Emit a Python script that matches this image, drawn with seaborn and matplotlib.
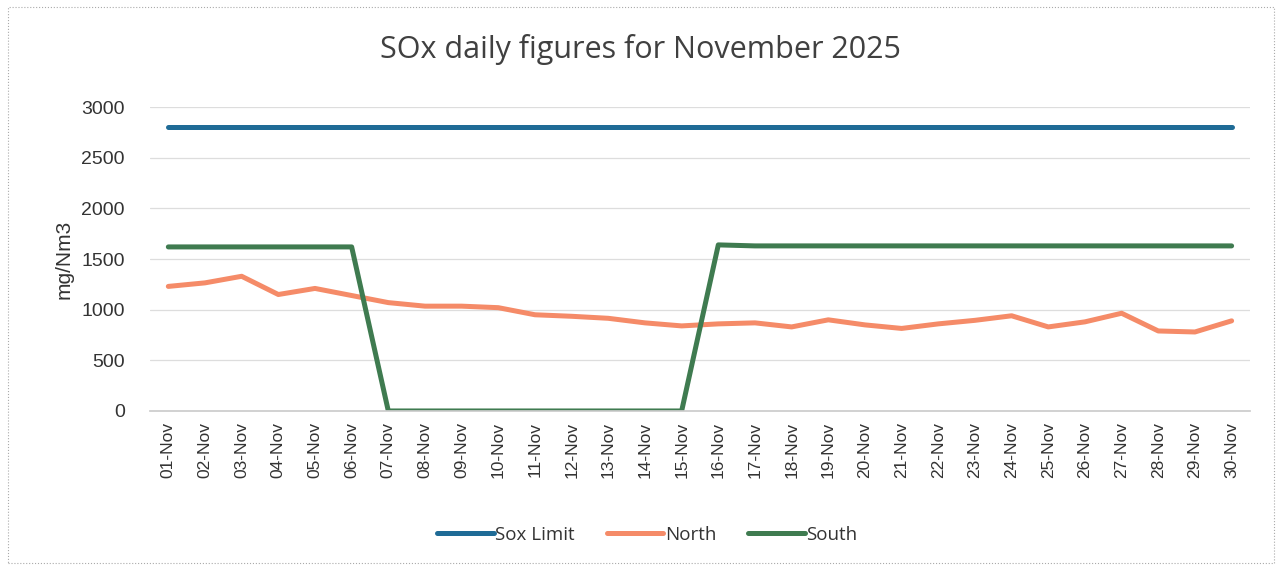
import pandas as pd
import numpy as np
import seaborn as sns
import matplotlib.pyplot as plt
from matplotlib.patches import Rectangle

# Data
days = ['%02d-Nov' % d for d in range(1, 31)]
sox_limit = [2800] * 30
north = [1230, 1265, 1330, 1150, 1210, 1140, 1070, 1035, 1035, 1020,
         950, 935, 915, 870, 840, 860, 870, 830, 900, 850,
         815, 860, 895, 940, 830, 880, 965, 790, 780, 890]
south = [1620, 1620, 1620, 1620, 1620, 1620, 0, 0, 0, 0,
         0, 0, 0, 0, 0, 1640, 1630, 1630, 1630, 1630,
         1630, 1630, 1630, 1630, 1630, 1630, 1630, 1630, 1630, 1630]

series_names = ['Sox Limit', 'North', 'South']
colors = ['#1f6b96', '#f58b68', '#3f7b50']

df = pd.DataFrame({'day': days * 3,
                   'pos': list(range(30)) * 3,
                   'value': sox_limit + north + south,
                   'series': np.repeat(series_names, 30)})

sns.set_theme(style='white')
plt.rcParams['font.family'] = ['Liberation Sans', 'DejaVu Sans']

fig = plt.figure(figsize=(12.82, 5.70), dpi=100)
ax = fig.add_axes([0.117, 0.279, 0.858, 0.533])

sns.lineplot(data=df, x='pos', y='value', hue='series', palette=colors,
             hue_order=series_names, linewidth=3.6, ax=ax,
             solid_capstyle='round', solid_joinstyle='round', legend=False)

ax.set_xlim(-0.5, 29.5)
ax.set_ylim(0, 3000)
ax.set_yticks(range(0, 3001, 500))
ax.set_yticklabels([str(v) for v in range(0, 3001, 500)], fontsize=14, color='#333333')
ax.set_xticks(range(30))
ax.set_xticklabels(days, rotation=90, fontsize=12.5, color='#333333')
ax.set_xticks(np.arange(-0.5, 30, 1), minor=True)
ax.tick_params(axis='x', which='major', length=0, pad=8)
ax.tick_params(axis='x', which='minor', length=5, color='#bbbbbb', width=0.8, direction='out')
ax.tick_params(axis='y', length=0, pad=18)
ax.grid(axis='y', color='#dddddd', linewidth=0.9)
for s in ['top', 'right', 'left']:
    ax.spines[s].set_visible(False)
ax.spines['bottom'].set_color('#cccccc')
ax.set_xlabel('')
ax.set_ylabel('mg/Nm3', fontsize=15, color='#333333', labelpad=6)

fig.suptitle('SOx daily figures for November 2025', y=0.94, fontsize=22,
             color='#404040', family=['Open Sans', 'DejaVu Sans'])

handles = [plt.Line2D([0], [0], color=c, lw=3.6, solid_capstyle='round') for c in colors]
fig.legend(handles, series_names, loc='center', bbox_to_anchor=(0.505, 0.062), ncol=3,
           frameon=False, handlelength=3.0, handletextpad=0.1, columnspacing=1.7,
           prop={'family': ['Open Sans', 'DejaVu Sans'], 'size': 13.5}, labelcolor='#333333')

fig.patches.append(Rectangle((0.006, 0.012), 0.988, 0.976, transform=fig.transFigure,
                             fill=False, edgecolor='#aaaaaa', linewidth=0.8, linestyle=':'))

fig.savefig('out.png', dpi=100)
